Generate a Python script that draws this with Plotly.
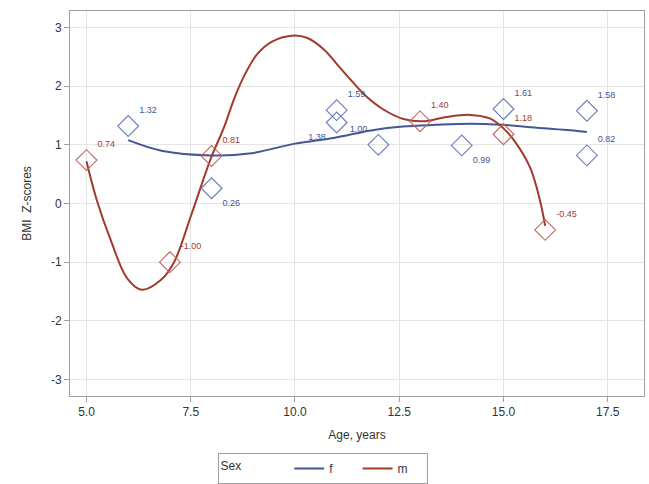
import plotly.graph_objects as go

# Observed points
f_age = [6, 8, 11, 11, 12, 14, 15, 17, 17]
f_bmi = [1.32, 0.26, 1.59, 1.38, 1.00, 0.99, 1.61, 1.58, 0.82]
f_pos = ["top right", "bottom right", "top right", "bottom left", "top left",
         "bottom right", "top right", "top right", "top right"]

m_age = [5, 7, 8, 13, 15, 16]
m_bmi = [0.74, -1.00, 0.81, 1.40, 1.18, -0.45]
m_pos = ["top right", "top right", "top right", "top right", "top right", "top right"]

# Fitted curves
f_fit_x = [6.0, 6.8, 8.0, 8.9, 10.0, 10.96, 11.78, 12.58, 13.37, 14.19, 15.0, 15.8, 16.6, 17.0]
f_fit_y = [1.08, 0.90, 0.82, 0.85, 1.02, 1.12, 1.24, 1.31, 1.34, 1.36, 1.34, 1.29, 1.25, 1.22]

m_fit_x = [5.0, 5.25, 5.58, 5.98, 6.33, 6.79, 7.10, 7.51, 7.99, 8.30, 8.55, 8.80, 9.1, 9.45, 9.92,
           10.3, 10.7, 11.0, 11.37, 11.7, 12.1, 12.6, 13.06, 13.6, 14.2, 14.67, 15.0, 15.3, 15.64,
           15.88, 16.0]
m_fit_y = [0.72, 0.05, -0.62, -1.28, -1.47, -1.30, -1.00, -0.20, 0.78, 1.30, 1.80, 2.20, 2.55, 2.76, 2.86,
           2.82, 2.62, 2.38, 2.08, 1.83, 1.61, 1.44, 1.40, 1.47, 1.51, 1.45, 1.28, 1.03, 0.61,
           0.04, -0.38]

x_ticks = [5.0, 7.5, 10.0, 12.5, 15.0, 17.5]
y_ticks = [-3, -2, -1, 0, 1, 2, 3]

BLUE = "#445694"
RED = "#A23A2E"
FONT = "Liberation Sans, Arial, sans-serif"
NB = "\u00a0"

fig = go.Figure()

fig.add_trace(go.Scatter(x=f_fit_x, y=f_fit_y, mode="lines", name="f" + NB * 6,
                         line=dict(color=BLUE, width=2, shape="spline", smoothing=1.0)))
fig.add_trace(go.Scatter(x=m_fit_x, y=m_fit_y, mode="lines", name="m" + NB * 4,
                         line=dict(color=RED, width=2, shape="spline", smoothing=1.0)))

fig.add_trace(go.Scatter(x=f_age, y=f_bmi, mode="markers+text", showlegend=False,
                         text=[f"{v:.2f}" for v in f_bmi], textposition=f_pos,
                         textfont=dict(color=BLUE, size=9, family=FONT),
                         marker=dict(symbol="diamond-open", size=16, color="#6b7bb5",
                                     line=dict(width=1.1, color="#6b7bb5")),
                         cliponaxis=False))
fig.add_trace(go.Scatter(x=m_age, y=m_bmi, mode="markers+text", showlegend=False,
                         text=[f"{v:.2f}" for v in m_bmi], textposition=m_pos,
                         textfont=dict(color=RED, size=9, family=FONT),
                         marker=dict(symbol="diamond-open", size=16, color="#c0665c",
                                     line=dict(width=1.1, color="#c0665c")),
                         cliponaxis=False))

axis_common = dict(showline=True, linecolor="#a0a0a0", linewidth=1, mirror=True,
                   showgrid=True, gridcolor="#e4e4e4", gridwidth=1, zeroline=False,
                   ticks="outside", ticklen=5, tickcolor="#a0a0a0", automargin=False,
                   tickfont=dict(size=12, color="#333333", family=FONT))

fig.update_xaxes(range=[4.605, 18.37], tickvals=x_ticks, ticktext=[f"{t:.1f}" for t in x_ticks],
                 title=dict(text="Age, years", font=dict(size=12, color="#333333", family=FONT), standoff=12),
                 **axis_common)
fig.update_yaxes(range=[-3.28, 3.28], tickvals=y_ticks, ticktext=[str(t) for t in y_ticks],
                 title=dict(text="BMI  Z-scores", font=dict(size=12, color="#333333", family=FONT), standoff=16),
                 **axis_common)

fig.update_layout(
    width=649, height=484,
    margin=dict(l=70, r=5, t=11, b=88, autoexpand=False),
    paper_bgcolor="white", plot_bgcolor="white",
    font=dict(family=FONT, size=12, color="#333333"),
    legend=dict(orientation="h", xref="container", yref="container",
                x=0.497, xanchor="center", y=0.0, yanchor="bottom",
                title=dict(text="Sex" + NB * 12, font=dict(size=12), side="left"),
                bordercolor="#a0a0a0", borderwidth=1, bgcolor="white", valign="middle",
                font=dict(size=12), itemwidth=30, tracegroupgap=0),
)

fig.write_html("out.html",
               config={"displayModeBar": False},
               post_script="document.documentElement.style.margin='0';"
                           "document.body.style.margin='0';"
                           "document.body.style.overflow='hidden';")
